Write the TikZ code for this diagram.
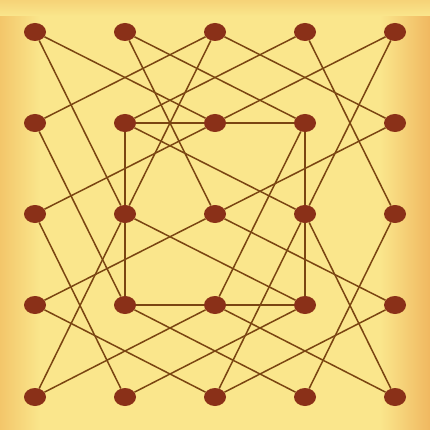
\documentclass[tikz,border=0pt]{standalone}
\usetikzlibrary{shapes.geometric}
\pgfdeclarelayer{bg}
\pgfdeclarelayer{edges}
\pgfsetlayers{bg,edges,main}
\definecolor{woodmid}{HTML}{FAE68C}
\definecolor{woodedge}{HTML}{F3C66A}
\definecolor{woodright}{HTML}{F0B860}
\definecolor{holecol}{HTML}{8A3018}
\definecolor{linecol}{HTML}{7A4512}
\tikzset{
  hole/.style={ellipse, fill=holecol, draw=none, minimum width=22pt, minimum height=18pt, inner sep=0pt},
  link/.style={draw=linecol, line width=1.5pt},
}
\begin{document}
\begin{tikzpicture}[x=1pt,y=-1pt]
\begin{pgfonlayer}{bg}
  \fill[woodmid] (0,0) rectangle (430,430);
  \shade[left color=woodedge, right color=woodmid] (0,0) rectangle (40,430);
  \shade[left color=woodmid, right color=woodright] (380,0) rectangle (430,430);
  \shade[top color=woodedge!60!woodmid, bottom color=woodmid] (0,0) rectangle (430,16);
\end{pgfonlayer}
\useasboundingbox (0,0) rectangle (430,430);
\foreach \c/\x in {0/35,1/125,2/215,3/305,4/395}{
  \foreach \r/\y in {0/32,1/123,2/214,3/305,4/397}{
    \node[hole] (n\c\r) at (\x,\y) {};
  }
}
\begin{pgfonlayer}{edges}
  % knight-move connections
  \draw[link] (n00) -- (n21);
  \draw[link] (n00) -- (n12);
  \draw[link] (n10) -- (n31);
  \draw[link] (n10) -- (n22);
  \draw[link] (n20) -- (n01);
  \draw[link] (n20) -- (n12);
  \draw[link] (n20) -- (n41);
  \draw[link] (n30) -- (n11);
  \draw[link] (n30) -- (n42);
  \draw[link] (n40) -- (n21);
  \draw[link] (n40) -- (n32);
  \draw[link] (n11) -- (n32);
  \draw[link] (n01) -- (n13);
  \draw[link] (n02) -- (n21);
  \draw[link] (n02) -- (n14);
  \draw[link] (n31) -- (n23);
  \draw[link] (n41) -- (n22);
  \draw[link] (n12) -- (n04);
  \draw[link] (n12) -- (n33);
  \draw[link] (n22) -- (n03);
  \draw[link] (n22) -- (n43);
  \draw[link] (n03) -- (n24);
  \draw[link] (n13) -- (n34);
  \draw[link] (n04) -- (n23);
  \draw[link] (n14) -- (n33);
  \draw[link] (n32) -- (n24);
  \draw[link] (n32) -- (n44);
  \draw[link] (n42) -- (n34);
  \draw[link] (n43) -- (n24);
  \draw[link] (n23) -- (n44);
  % inner square ring
  \draw[link] (n11) -- (n21);
  \draw[link] (n21) -- (n31);
  \draw[link] (n31) -- (n32);
  \draw[link] (n32) -- (n33);
  \draw[link] (n33) -- (n23);
  \draw[link] (n23) -- (n13);
  \draw[link] (n13) -- (n12);
  \draw[link] (n12) -- (n11);
\end{pgfonlayer}
\end{tikzpicture}
\end{document}
